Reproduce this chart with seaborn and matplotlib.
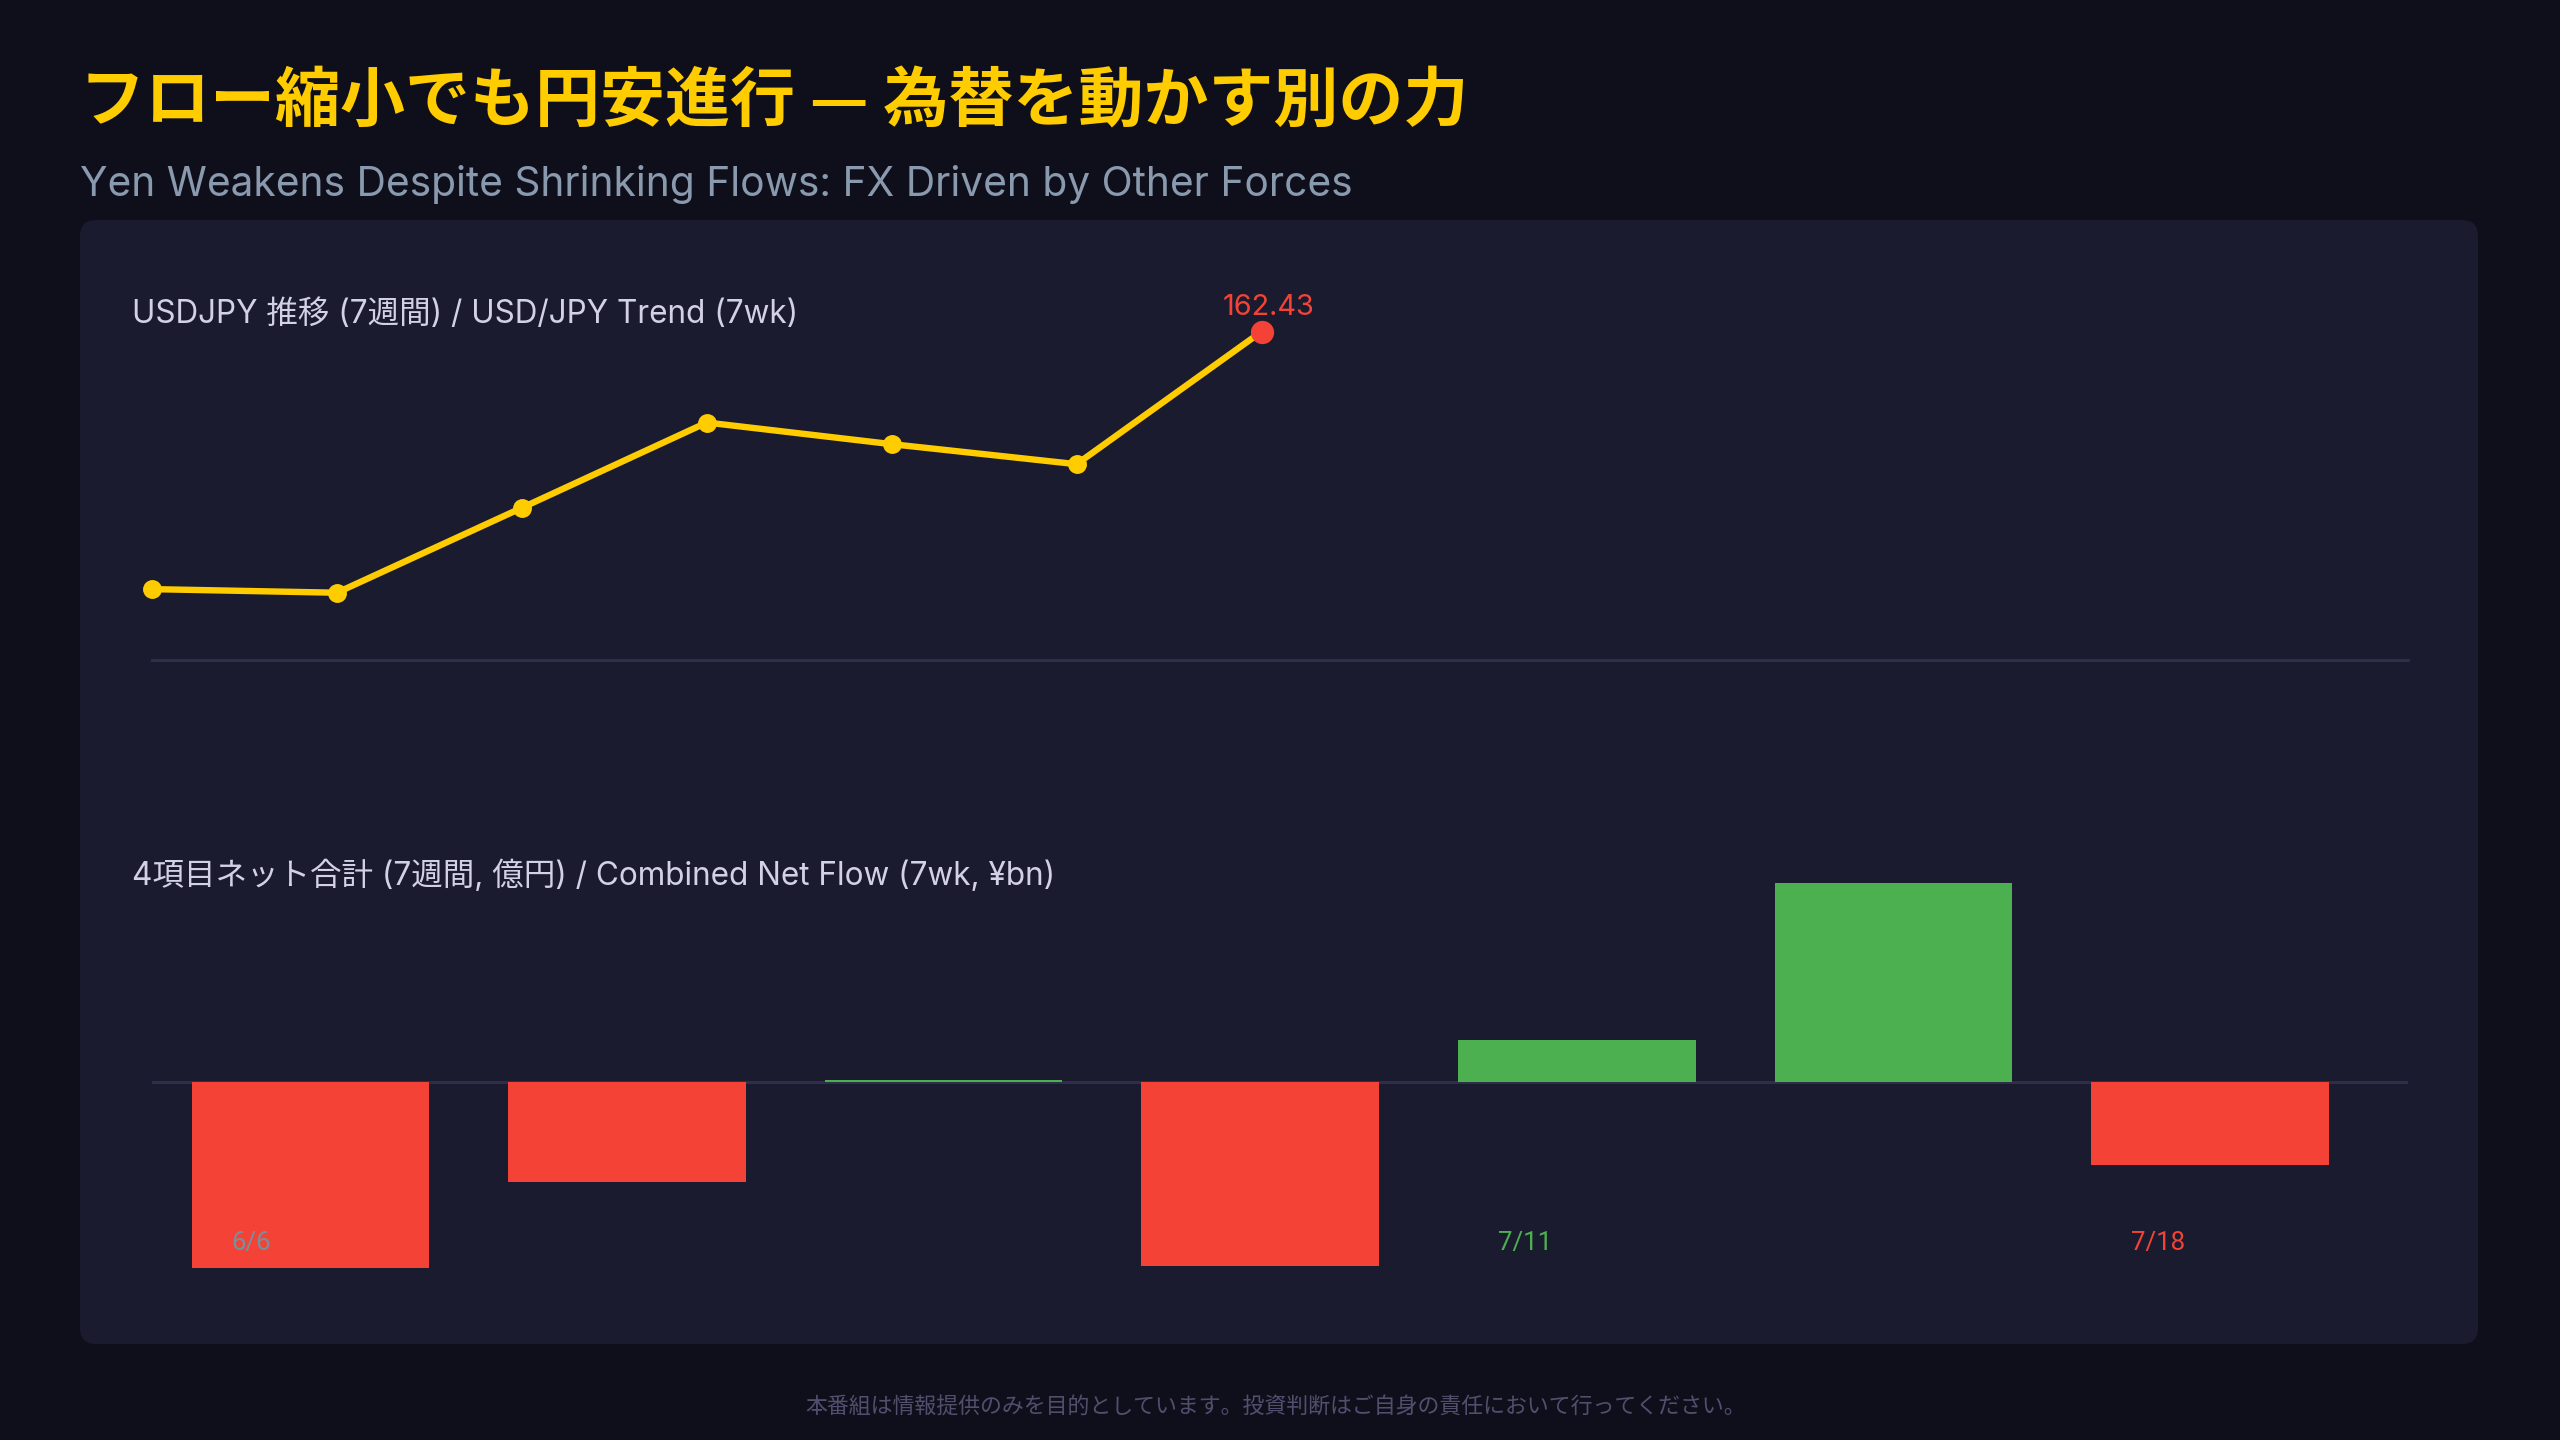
import matplotlib
matplotlib.use("Agg")
import matplotlib.pyplot as plt
from matplotlib.patches import FancyBboxPatch
import pandas as pd
import seaborn as sns

# --- data ---
week_idx = [0, 1, 2, 3, 4, 5, 6]
usdjpy = [156.00, 155.91, 158.03, 160.16, 159.62, 159.12, 162.43]

net_flow = [-9300, -5020, 100, -9200, 2080, 9940, -4170]   # 億円

date_labels = ["6/6", "7/11", "7/18"]
date_label_pos = [0, 4, 6]

title_jp = "フロー縮小でも円安進行 — 為替を動かす別の力"
subtitle_en = "Yen Weakens Despite Shrinking Flows: FX Driven by Other Forces"
line_label = "USDJPY 推移 (7週間) / USD/JPY Trend (7wk)"
bar_label = "4項目ネット合計 (7週間, 億円) / Combined Net Flow (7wk, ¥bn)"
footer = "本番組は情報提供のみを目的としています。投資判断はご自身の責任において行ってください。"

# colours
BG = "#0f0f1c"
PANEL = "#1a1b2e"
GOLD = "#ffcc00"
RED = "#f44336"
GREEN = "#4caf50"
GRID = "#2c2e4a"
LABEL = "#d2d2e4"
SUB = "#8a9aae"
DATE_COLORS = ["#78909c", GREEN, RED]

W, H = 2560, 1440
DPI = 200


def fx(px):
    return px / W


def fy(py):
    return 1 - py / H


sns.set_theme(style="dark")
plt.rcParams["font.family"] = ["Inter", "Noto Sans CJK JP", "DejaVu Sans"]
plt.rcParams["savefig.facecolor"] = BG

fig = plt.figure(figsize=(W / DPI, H / DPI), dpi=DPI, facecolor=BG)

# rounded card behind both charts
card = FancyBboxPatch((80 / DPI, (H - 1344) / DPI), 2398 / DPI, 1124 / DPI,
                      boxstyle="round,pad=0,rounding_size=0.08",
                      transform=fig.dpi_scale_trans, facecolor=PANEL,
                      edgecolor="none", zorder=-1)
fig.add_artist(card)

# --- top: USD/JPY line ---
ax1 = fig.add_axes([fx(152), fy(660), fx(2408) - fx(152), fy(300) - fy(660)])
ax1.set_facecolor("none")
sns.lineplot(x=week_idx, y=usdjpy, ax=ax1, color=GOLD, linewidth=2.3,
             marker="o", markersize=6.8, markeredgewidth=0, clip_on=False)
sns.scatterplot(x=[week_idx[-1]], y=[usdjpy[-1]], ax=ax1, color=RED, s=70,
                linewidth=0, zorder=5, clip_on=False)
ax1.annotate(f"{usdjpy[-1]:.2f}", (week_idx[-1], usdjpy[-1]),
             xytext=(2.5, 6), textcoords="offset points", ha="center",
             va="baseline", color=RED, fontsize=10.4)
ax1.set_xlim(0, 12.2)
ax1.set_ylim(154.23, 163.22)
ax1.set_xticks([])
ax1.set_yticks([])
ax1.set_xlabel("")
ax1.set_ylabel("")
for side in ["top", "left", "right"]:
    ax1.spines[side].set_visible(False)
ax1.spines["bottom"].set_color(GRID)
ax1.spines["bottom"].set_linewidth(1.1)

# --- bottom: combined net flow bars ---
ax2 = fig.add_axes([fx(152), fy(1300), fx(2408) - fx(152), fy(860) - fy(1300)])
ax2.set_facecolor("none")
df = pd.DataFrame({"week": week_idx, "flow": net_flow})
df["sign"] = ["pos" if v >= 0 else "neg" for v in net_flow]
sns.barplot(data=df, x="week", y="flow", hue="sign",
            palette={"pos": GREEN, "neg": RED}, dodge=False, width=0.75,
            saturation=1, linewidth=0, legend=False, ax=ax2, zorder=2)
ax2.axhline(0, color=GRID, linewidth=1.1, zorder=1)
ax2.set_xlim(-0.5, 6.625)
ax2.set_ylim(-10915, 11085)
ax2.set_xticks([])
ax2.set_yticks([])
ax2.set_xlabel("")
ax2.set_ylabel("")
for side in ax2.spines:
    ax2.spines[side].set_visible(False)

for lab, pos, col in zip(date_labels, date_label_pos, DATE_COLORS):
    ax2.text(pos - 0.25, 0.114, lab, transform=ax2.get_xaxis_transform(),
             ha="left", va="baseline", color=col, fontsize=9.3, zorder=3,
             family=["Roboto", "DejaVu Sans"])

# --- text ---
fig.text(fx(80), fy(121), title_jp, color=GOLD, fontsize=23.4, fontweight="bold",
         ha="left", va="baseline", family=["Noto Sans CJK JP", "DejaVu Sans"])
fig.text(fx(80), fy(196), subtitle_en, color=SUB, fontsize=14.65,
         ha="left", va="baseline")
fig.text(fx(132), fy(323), line_label, color=LABEL, fontsize=11.35,
         ha="left", va="baseline")
fig.text(fx(132), fy(885), bar_label, color=LABEL, fontsize=11.35,
         ha="left", va="baseline")
fig.text(fx(1276), fy(1408), footer, color="#50506e", fontsize=7.9,
         ha="center", va="center", family=["Noto Sans CJK JP", "DejaVu Sans"])

fig.savefig("out.png", dpi=DPI, facecolor=BG)
